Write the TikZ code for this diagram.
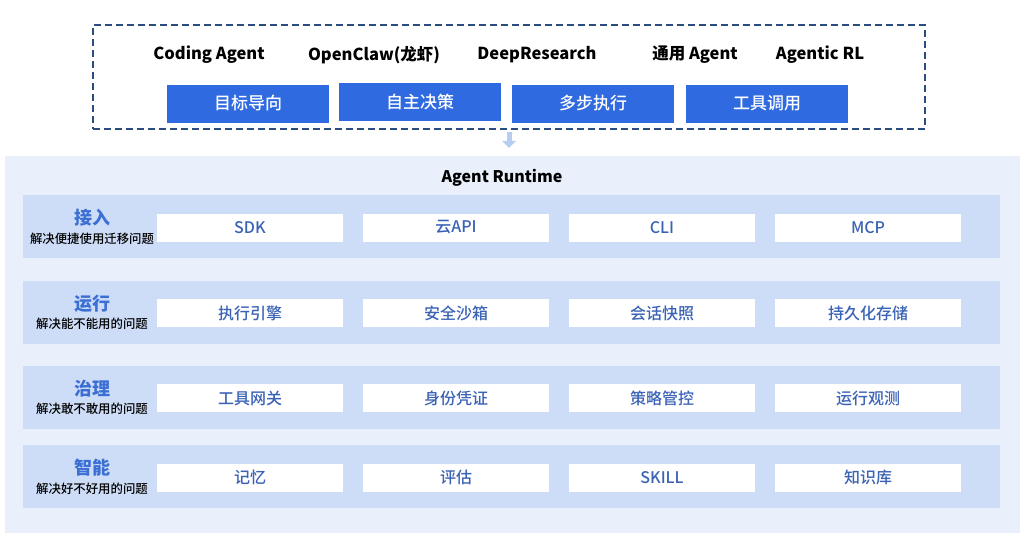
\documentclass[tikz,border=0pt]{standalone}
\usepackage{fontspec}
\setmainfont{Noto Sans CJK SC}
\newfontfamily\medfont{Noto Sans CJK SC}[UprightFont=* Medium, BoldFont=* Bold]
\usetikzlibrary{arrows.meta}
\definecolor{navy}{HTML}{2B4C7E}
\definecolor{topblue}{HTML}{2F6AE0}
\definecolor{panelbg}{HTML}{E9F0FC}
\definecolor{bandbg}{HTML}{CEDDF7}
\definecolor{labblue}{HTML}{3B6FD4}
\definecolor{boxtext}{HTML}{3A62B5}
\definecolor{arrowblue}{HTML}{B7CDF0}
\tikzset{
  topframe/.style={draw=navy, line width=2pt, dash pattern=on 7pt off 4pt, minimum width=832pt, minimum height=104pt, inner sep=0pt},
  toplabel/.style={font=\fontsize{16.5}{19}\selectfont\bfseries, text=black, inner sep=0pt},
  bluebox/.style={fill=topblue, text=white, minimum width=162pt, minimum height=38pt, inner sep=0pt, font=\medfont\fontsize{17}{19}\selectfont},
  panel/.style={fill=panelbg, minimum width=1015pt, minimum height=377pt, inner sep=0pt},
  band/.style={fill=bandbg, minimum width=977pt, minimum height=63pt, inner sep=0pt},
  rowtitle/.style={text=labblue, font=\fontsize{18}{20}\selectfont\bfseries, inner sep=0pt},
  rowsub/.style={text=black, font=\medfont\fontsize{12.4}{14}\selectfont, inner sep=0pt},
  itembox/.style={fill=white, text=boxtext, minimum width=186pt, minimum height=28pt, inner sep=0pt, font=\medfont\fontsize{16}{18}\selectfont},
  downarrow/.style={draw=arrowblue, line width=5pt, -{Triangle[length=7pt,width=14pt]}}
}
\begin{document}
\begin{tikzpicture}[x=1pt,y=-1pt]
\useasboundingbox (0,0) rectangle (1027,539);
% top dashed frame
\node[topframe] (top) at (509,77) {};
\node[toplabel] (l1) at (209,55) {Coding Agent};
\node[toplabel] (l2) at (374,55) {OpenClaw(龙虾)};
\node[toplabel] (l3) at (537,55) {DeepResearch};
\node[toplabel] (l4) at (695,55) {通用 Agent};
\node[toplabel] (l5) at (820,55) {Agentic RL};
\node[bluebox] (b1) at (248,103.5) {目标导向};
\node[bluebox] (b2) at (420,102) {自主决策};
\node[bluebox] (b3) at (593,103.5) {多步执行};
\node[bluebox] (b4) at (767,103.5) {工具调用};
% panel
\node[panel] (panel) at (512.5,344.5) {};
\draw[downarrow, shorten <=2pt, shorten >=8pt] (top.south) -- (top.south |- panel.north);
\node[font=\fontsize{16}{18}\selectfont\bfseries, inner sep=0pt] (rt) at (502,178) {Agent Runtime};
% rows
\foreach \y/\n/\t/\s/\a/\b/\c/\d in {
  226.5/r1/接入/解决便捷使用迁移问题/SDK/云API/CLI/MCP,
  312/r2/运行/解决能不能用的问题/执行引擎/安全沙箱/会话快照/持久化存储,
  397/r3/治理/解决敢不敢用的问题/工具网关/身份凭证/策略管控/运行观测,
  476.5/r4/智能/解决好不好用的问题/记忆/评估/SKILL/知识库}{
  \node[band] (\n) at (511.5,\y) {};
  \node[rowtitle] (\n t) at (92,\y-8.5) {\t};
  \node[rowsub] (\n s) at (92,\y+12) {\s};
  \node[itembox] (\n a) at (250,\y+1) {\a};
  \node[itembox] (\n b) at (456,\y+1) {\b};
  \node[itembox] (\n c) at (662,\y+1) {\c};
  \node[itembox] (\n d) at (868,\y+1) {\d};
}
\end{tikzpicture}
\end{document}
